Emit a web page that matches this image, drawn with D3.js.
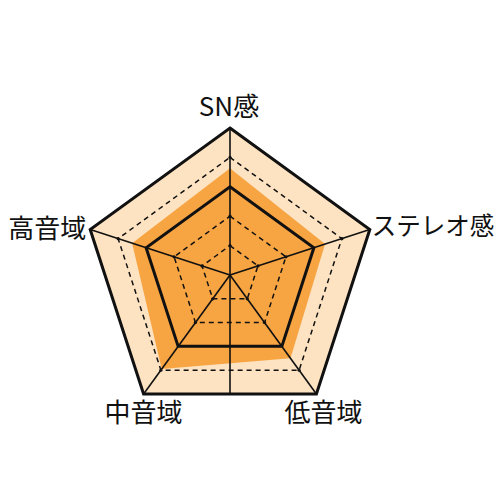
<!DOCTYPE html>
<html><head><meta charset="utf-8">
<script src="https://cdn.jsdelivr.net/npm/d3@7"></script>
<style>html,body{margin:0;padding:0;background:#fff;}svg{display:block;}</style>
</head><body>
<svg id="c" width="500" height="500"></svg>
<script>
const categories = ["SN感", "ステレオ感", "低音域", "中音域", "高音域"];
const values = [3.63, 3.4, 3.5, 3.95, 3.5];
const levels = [1, 2, 3, 4, 5];
const maxValue = 5;

const svg = d3.select("#c");
const cx = 230, cy = 275, R = 147;
const r = d3.scaleLinear().domain([0, maxValue]).range([0, R]);
const angle = d3.scaleLinear().domain([0, categories.length]).range([0, 2 * Math.PI]);
const pt = (i, v) => [cx + r(v) * Math.sin(angle(i)), cy - r(v) * Math.cos(angle(i))];
const ring = v => categories.map((c, i) => pt(i, v));
const line = d3.line().curve(d3.curveLinearClosed);

const g = svg.append("g");
// background
g.append("path").attr("d", line(ring(maxValue))).attr("fill", "#FDE3C2");
// data
g.append("path").attr("d", line(values.map((v, i) => pt(i, v)))).attr("fill", "#F7A442");
// rings
levels.forEach(l => {
  const solid = (l === 3 || l === 5);
  g.append("path").attr("d", line(ring(l))).attr("fill", "none")
    .attr("stroke", "#111").attr("stroke-width", solid ? 3 : 1.5)
    .attr("stroke-linejoin", "miter")
    .attr("stroke-dasharray", solid ? null : "5,4");
});
// axes
categories.forEach((c, i) => {
  const p = pt(i, maxValue);
  g.append("line").attr("x1", cx).attr("y1", cy).attr("x2", p[0]).attr("y2", p[1])
    .attr("stroke", "#111").attr("stroke-width", 1.6);
});
// vertical line from center to bottom edge
const bl = pt(2, maxValue), br = pt(3, maxValue);
g.append("line").attr("x1", cx).attr("y1", cy).attr("x2", cx).attr("y2", (bl[1] + br[1]) / 2)
  .attr("stroke", "#111").attr("stroke-width", 1.6);
// tick dots
categories.forEach((c, i) => {
  levels.filter(l => l !== 3 && l !== 5).forEach(l => {
    const p = pt(i, l);
    g.append("circle").attr("cx", p[0]).attr("cy", p[1]).attr("r", 1.6).attr("fill", "#111");
  });
});
// labels
const font = "'Noto Sans CJK JP','Noto Sans',sans-serif";
const labelCfg = [
  {anchor: "middle", dx: -1, dy: -12, size: 26},
  {anchor: "start", dx: 2, dy: 5, size: 24.5},
  {anchor: "middle", dx: 7, dy: 28, size: 26},
  {anchor: "middle", dx: 0, dy: 28, size: 26},
  {anchor: "end", dx: -4, dy: 8, size: 26}
];
categories.forEach((c, i) => {
  const p = pt(i, maxValue);
  const cfg = labelCfg[i];
  svg.append("text").attr("x", p[0] + cfg.dx).attr("y", p[1] + cfg.dy)
    .attr("text-anchor", cfg.anchor).attr("font-family", font)
    .attr("font-size", cfg.size).attr("fill", "#111").text(c);
});
</script>
</body></html>
